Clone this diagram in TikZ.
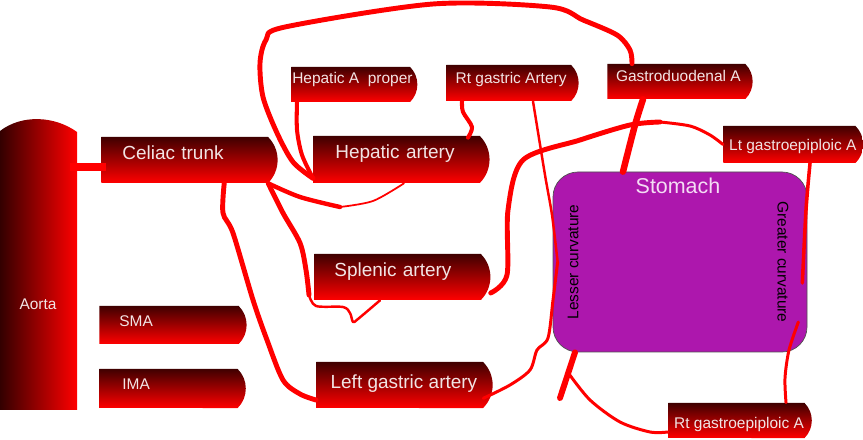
\documentclass[tikz,border=0pt]{standalone}
\usepackage{fontspec}
\setmainfont{Liberation Sans}
\usepackage{tikz}
\usetikzlibrary{calc,shapes}

\definecolor{vdark}{HTML}{400000}
\definecolor{vred}{HTML}{FF0000}
\definecolor{aortadark}{HTML}{330000}
\definecolor{vtext}{HTML}{F2E4E4}
\definecolor{stomachfill}{HTML}{AD17AD}
\definecolor{stomachline}{HTML}{505050}
\definecolor{stomachtext}{HTML}{F4DCF4}

\begin{document}
\begin{tikzpicture}[x=0.2mm, y=-0.2mm,
  vessel/.style={rounded rectangle, rounded rectangle left arc=none, rounded rectangle arc length=90,
    top color=vdark, bottom color=vred, text=vtext, inner ysep=0pt, text height=7pt, anchor=west},
  big/.style={font=\fontsize{10.8}{13}\selectfont},
  small/.style={font=\fontsize{8.8}{11}\selectfont},
  art/.style={draw=vred, line width=#1, line cap=round, line join=round},
  art/.default=2pt]

  \useasboundingbox (0,0) rectangle (863,440);

  % aorta
  \shade[left color=aortadark, right color=vred] (0,131) .. controls (22,114) and (55,116) .. (77,132) -- (77,410) -- (0,410) -- cycle;
  \node[small, text=vtext] (aorta) at (38,304) {Aorta};
  \coordinate (aortaR) at (70,167);

  % stomach
  \node[draw=stomachline, fill=stomachfill, rounded corners=5mm, minimum width=50.8mm, minimum height=36mm] (stomach) at (680,262) {};
  \node[text=stomachtext, font=\fontsize{12.2}{14}\selectfont] (stomachlbl) at (678,186) {Stomach};
  \node[small, rotate=90] (lesser) at (573,262) {Lesser curvature};
  \node[small, rotate=-90] (greater) at (783,262) {Greater curvature};

  % branches
  \node[vessel, big, minimum height=9.2mm, inner xsep=4.2mm, text width=26.3mm, align=left, text depth=7.9pt] (celiac) at (101,160) {Celiac trunk};
  \node[vessel, big, minimum height=9.4mm, inner xsep=4.4mm, text width=25.9mm, align=left, text depth=7.9pt] (hepatic) at (313,159.5) {Hepatic artery};
  \node[vessel, big, minimum height=9.2mm, inner xsep=4mm, text width=26.7mm, align=left, text depth=7.3pt] (splenic) at (314,277) {Splenic artery};
  \node[vessel, big, minimum height=9.2mm, minimum width=37.6mm, text depth=2.7pt] (lgastric) at (316,385) {Left gastric artery};
  \node[vessel, small, minimum height=7.6mm, inner xsep=4mm, text width=21mm, align=left, text depth=5.3pt] (sma) at (99,325) {SMA};
  \node[vessel, small, minimum height=7.8mm, inner xsep=4.6mm, text width=19.6mm, align=left, text depth=5.9pt] (ima) at (99,388.5) {IMA};
  \node[vessel, small, minimum height=7mm, minimum width=26.4mm, inner xsep=0.6mm, text depth=8.1pt] (hproper) at (291,84.5) {Hepatic A~ proper};
  \node[vessel, small, minimum height=7.2mm, minimum width=28.8mm, text depth=6.3pt] (rgastric) at (446,83) {Rt gastric Artery};
  \node[vessel, small, minimum height=7mm, minimum width=31.4mm, text depth=6.9pt] (gduod) at (607,81.5) {Gastroduodenal A};
  \node[vessel, small, minimum height=7.4mm, minimum width=27.4mm, text depth=0.7pt] (ltgep) at (723,144.5) {Lt gastroepiploic A};
  \node[vessel, small, minimum height=7mm, minimum width=28mm, text height=10pt, text depth=0.9pt] (rtgep) at (668,420.5) {Rt gastroepiploic A};

  \coordinate (lcurve) at ([xshift=1mm]stomach.west);
  \coordinate (cardia) at ([xshift=-21mm]stomach.south);
  \coordinate (pylorus) at (560,398);
  \coordinate (branch) at ($(cardia)!0.45!(pylorus)$);

  % arteries
  \draw[art=4pt, line cap=butt] (aortaR) -- (aortaR -| celiac.west) -- ++(5,0);
  \draw[art=2.5pt] plot[smooth] coordinates {(celiac.south east) (300,197) (340,207)};
  \draw[art=1pt] plot[smooth] coordinates {(340,207) (373,201) ([xshift=-15.2mm]hepatic.south east)};
  \draw[art=2.8pt] plot[smooth] coordinates {(celiac.south east) (283,213) (300,243) (306,270) (309,295)};
  \draw[art=1.4pt] plot[smooth] coordinates {(309,295) (316,306) (343,307) (350,313) (353,322) (358,319) ([xshift=13.2mm]splenic.south west)};
  \draw[art=2.8pt] plot[smooth] coordinates {([xshift=-8.8mm]celiac.south east) (223,213) (233,233) (253,300) (267,340) (283,380) (300,394) ([yshift=-3mm]lgastric.west)};
  \draw[art=1.7pt] plot[smooth] coordinates {([yshift=2mm]lgastric.south east) (510,385) (530,370) (537,350) (548,338) (553,300) (lcurve)};
  \draw[art=2.8pt] plot[smooth] coordinates {([yshift=-3.2mm]splenic.east) (507,275) (508,210) (523,160) (580,140) (630,125) (660,122)};
  \draw[art=1.7pt] plot[smooth] coordinates {(660,122) (690,126) (710,135) (ltgep.west)};
  \draw[art=1.4pt] plot[smooth] coordinates {([xshift=17.4mm]rgastric.south west) (545,175) (552,215) (lcurve)};
  \draw[art=2.3pt] plot[smooth] coordinates {([xshift=3.2mm]rgastric.south west) (463,112) (472,127) ([xshift=-2.4mm,yshift=-0.4mm]hepatic.north east)};
  \draw[art=2.3pt] plot[smooth] coordinates {([xshift=1.2mm]hproper.south west) (297,130) (302,155) ([yshift=1mm]hepatic.south west)};
  \draw[art=2.8pt] plot[smooth] coordinates {([yshift=1mm]hepatic.south west) (293,162) (277,133) (263,97) (260,63) (266,40) (285,27) (433,4) (550,7) (583,20) (617,35) (630,50) ([xshift=5mm]gduod.north west)};
  \draw[art=3.7pt] plot[smooth] coordinates {([xshift=7.2mm]gduod.south west) (635,125) ([xshift=-11.4mm]stomach.north)};
  \draw[art=2pt] plot[smooth] coordinates {([xshift=17.4mm]ltgep.south west) (806,210) ([xshift=-1mm,yshift=-4.2mm]stomach.east)};
  \draw[art=1.7pt] plot[smooth] coordinates {([xshift=-1.8mm,yshift=-12mm]stomach.east) (789,350) (785,378) ([xshift=23.6mm]rtgep.north west)};
  \draw[art=3.4pt] (cardia) -- (pylorus);
  \draw[art=1.7pt] plot[smooth] coordinates {(branch) (590,400) (620,422) (650,432) ([yshift=-2.3mm]rtgep.west)};
\end{tikzpicture}
\end{document}
